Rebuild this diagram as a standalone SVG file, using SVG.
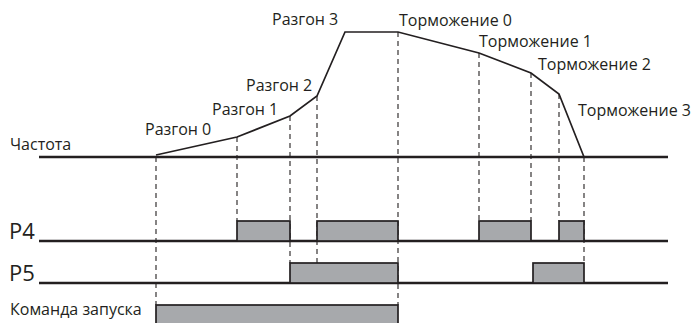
<svg xmlns="http://www.w3.org/2000/svg" width="695" height="323" viewBox="0 0 695 323">
<style>
text{font-family:"Open Sans","Liberation Sans",sans-serif;fill:#231f20}
.lbl{font-size:16px}
.big{font-size:22px}
.base{stroke:#231f20;stroke-width:2.4;fill:none}
.curve{stroke:#231f20;stroke-width:1.7;fill:none;stroke-linejoin:miter}
.dash{stroke:#231f20;stroke-width:1.1;stroke-dasharray:5 4;fill:none}
.pulse{fill:#a7a9ac;stroke:#231f20;stroke-width:1.7}
</style>
<rect width="695" height="323" fill="#fff"/>
<g id="connectors">
<line class="dash" x1="156" y1="157" x2="156" y2="305"/>
<line class="dash" x1="237" y1="137" x2="237" y2="221"/>
<line class="dash" x1="290" y1="116" x2="290" y2="263"/>
<line class="dash" x1="317" y1="96" x2="317" y2="263"/>
<line class="dash" x1="398" y1="32" x2="398" y2="305"/>
<line class="dash" x1="479" y1="53" x2="479" y2="221"/>
<line class="dash" x1="531" y1="73" x2="531" y2="221"/>
<line class="dash" x1="559" y1="94" x2="559" y2="221"/>
<line class="dash" x1="584" y1="157" x2="584" y2="263"/>
</g>
<g id="frequency">
<line class="base" x1="39" y1="157" x2="668" y2="157"/>
<polyline class="curve" points="156,155 237,137 290,116 317,96 345,32 398,32 479,53 531,73 559,94 584,157"/>
<text class="lbl" x="10" y="150">Частота</text>
<text class="lbl" x="145" y="135">Разгон 0</text>
<text class="lbl" x="212" y="115">Разгон 1</text>
<text class="lbl" x="246" y="91">Разгон 2</text>
<text class="lbl" x="272" y="25">Разгон 3</text>
<text class="lbl" x="399" y="26">Торможение 0</text>
<text class="lbl" x="479" y="47">Торможение 1</text>
<text class="lbl" x="538" y="70">Торможение 2</text>
<text class="lbl" x="578" y="116">Торможение 3</text>
</g>
<g id="p4">
<line class="base" x1="39" y1="241" x2="668" y2="241"/>
<rect class="pulse" x="237" y="221" width="53" height="20"/>
<rect class="pulse" x="317" y="221" width="81" height="20"/>
<rect class="pulse" x="479" y="221" width="52" height="20"/>
<rect class="pulse" x="559" y="221" width="25" height="20"/>
<text class="big" x="9" y="239">P4</text>
</g>
<g id="p5">
<line class="base" x1="39" y1="283" x2="668" y2="283"/>
<rect class="pulse" x="290" y="263" width="108" height="20"/>
<rect class="pulse" x="533" y="263" width="51" height="20"/>
<text class="big" x="9" y="281">P5</text>
</g>
<g id="start">
<rect class="pulse" x="156" y="305" width="242" height="25"/>
<text class="lbl" x="10" y="315">Команда запуска</text>
</g>
</svg>
